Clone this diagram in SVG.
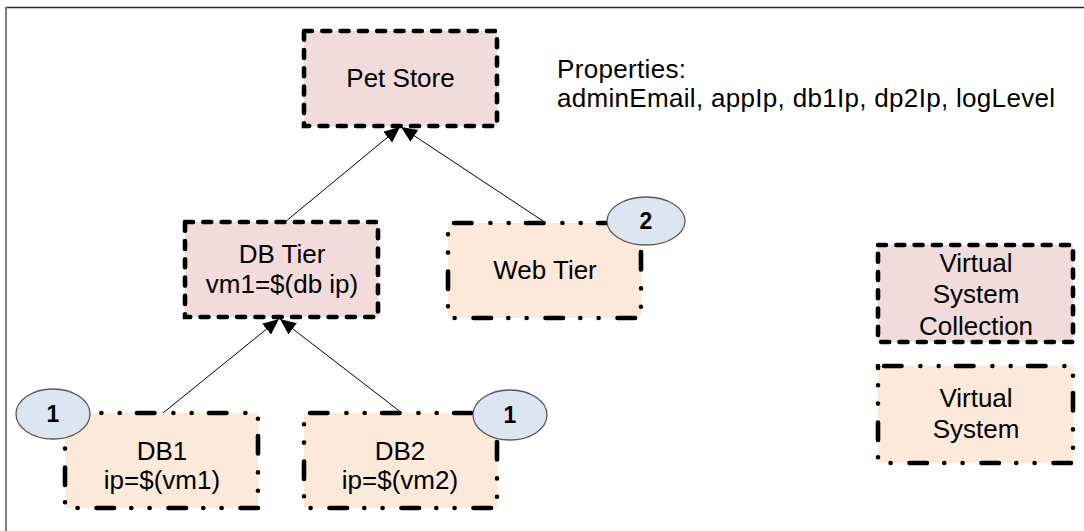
<svg xmlns="http://www.w3.org/2000/svg" width="1084" height="531" viewBox="0 0 1084 531">
<defs>
<style>
text{font-family:"Liberation Sans",Arial,sans-serif;font-size:26px;fill:#000}
.c{text-anchor:middle}
.vsc{fill:#f2dcdb;stroke:#000;stroke-width:4.6;stroke-linecap:round;stroke-dasharray:8 10.3}
.vs{fill:#fde9d9;stroke:#000;stroke-width:4.6;stroke-linecap:round;stroke-dasharray:17.5 18.9 0 18.3 0 17.3}
.badge{fill:#dce6f2;stroke:#595959;stroke-width:1.3}
.bt{font-weight:bold;font-size:23px;text-anchor:middle}
.conn{stroke:#000;stroke-width:1;fill:none;marker-end:url(#arr)}
</style>
<marker id="arr" markerUnits="userSpaceOnUse" markerWidth="18" markerHeight="16" refX="16" refY="7" orient="auto">
<path d="M0,0 L16,7 L0,14 z" fill="#000"/>
</marker>
</defs>
<rect width="1084" height="531" fill="#fff"/>
<line x1="5" y1="7.5" x2="1084" y2="7.5" stroke="#2a2a2a" stroke-width="1.6"/>
<line x1="6" y1="7" x2="6" y2="531" stroke="#808080" stroke-width="2"/>

<g id="connectors">
<line class="conn" x1="285" y1="222" x2="400" y2="127"/>
<line class="conn" x1="546" y1="223" x2="401" y2="127"/>
<line class="conn" x1="163" y1="413" x2="279" y2="319"/>
<line class="conn" x1="402" y1="413" x2="280" y2="319"/>
</g>

<g id="pet-store">
<rect class="vsc" x="304" y="31" width="193" height="95"/>
<text class="c" x="400.5" y="87">Pet Store</text>
</g>

<g id="properties">
<text x="557" y="78" textLength="129">Properties:</text>
<text x="557" y="107" textLength="498">adminEmail, appIp, db1Ip, dp2Ip, logLevel</text>
</g>

<g id="db-tier">
<rect class="vsc" x="185" y="222" width="193" height="95"/>
<text class="c" x="282" y="263">DB Tier</text>
<text class="c" x="282" y="293">vm1=$(db ip)</text>
</g>

<g id="web-tier">
<rect class="vs" x="448" y="223" width="193" height="95" stroke-dashoffset="-6"/>
<text class="c" x="545" y="279">Web Tier</text>
</g>

<g id="badge-2">
<ellipse class="badge" cx="646" cy="221" rx="39" ry="24"/>
<text class="bt" x="646" y="229">2</text>
</g>

<g id="db1">
<rect class="vs" x="65" y="413" width="193" height="95"/>
<text class="c" x="162" y="460">DB1</text>
<text class="c" x="162" y="489">ip=$(vm1)</text>
</g>

<g id="badge-1a">
<ellipse class="badge" cx="53" cy="414" rx="37" ry="25"/>
<text class="bt" x="53" y="422">1</text>
</g>

<g id="db2">
<rect class="vs" x="304" y="413" width="193" height="95" stroke-dashoffset="-6"/>
<text class="c" x="400" y="460">DB2</text>
<text class="c" x="400" y="489">ip=$(vm2)</text>
</g>

<g id="badge-1b">
<ellipse class="badge" cx="510" cy="415" rx="37" ry="25"/>
<text class="bt" x="510" y="423">1</text>
</g>

<g id="legend-vsc">
<rect class="vsc" x="878" y="245" width="195" height="97"/>
<text class="c" x="976" y="272">Virtual</text>
<text class="c" x="976" y="303">System</text>
<text class="c" x="976" y="335">Collection</text>
</g>

<g id="legend-vs">
<rect class="vs" x="878" y="366" width="195" height="97" stroke-dashoffset="-6"/>
<text class="c" x="976" y="407">Virtual</text>
<text class="c" x="976" y="438">System</text>
</g>
</svg>
